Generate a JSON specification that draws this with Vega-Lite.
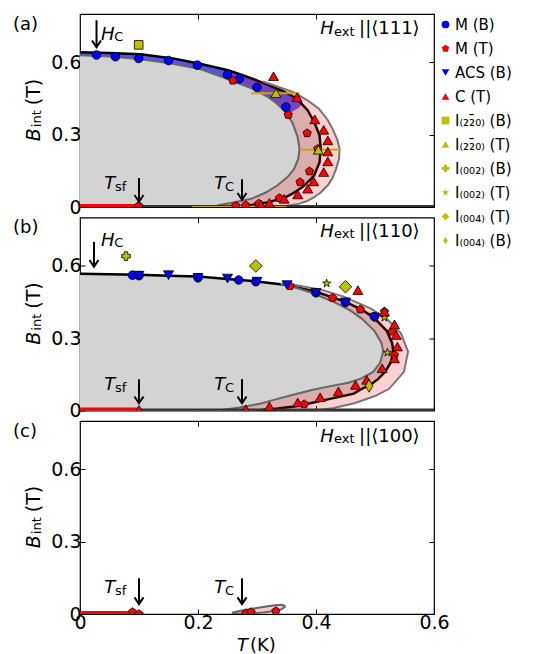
{
"$schema":"https://vega.github.io/schema/vega-lite/v6.json",
"padding":{"left":12,"top":12,"right":2,"bottom":2},
"spacing":10.5,
"bounds":"flush",
"config":{
 "font":"DejaVu Sans",
 "view":{"stroke":"black","strokeWidth":1.2},
 "axis":{"domain":false,"grid":false,"tickSize":-5,"tickWidth":1,"tickColor":"black","labelFontSize":19,"labelColor":"black","labelPadding":4,"labelFlush":false,"labelOverlap":false,"labelFont":"DejaVu Sans"},
 "legend":{"orient":"none","legendX":355,"legendY":0,"labelFontSize":15,"labelFont":"DejaVu Sans","labelColor":"black","rowPadding":8,"symbolSize":60,"symbolStrokeColor":"black","symbolStrokeWidth":0.8,"labelOffset":2,"padding":3,"labelLimit":300}
},
"datasets":{
 "blackA":[{"B":0,"T":0.26},{"B":0.003,"T":0.275},{"B":0.008,"T":0.29},{"B":0.02,"T":0.32},{"B":0.041,"T":0.349},{"B":0.055,"T":0.36},{"B":0.083,"T":0.377},{"B":0.11,"T":0.389},{"B":0.131,"T":0.397},{"B":0.186,"T":0.406},{"B":0.241,"T":0.408},{"B":0.297,"T":0.406},{"B":0.352,"T":0.397},{"B":0.4,"T":0.386},{"B":0.451,"T":0.367},{"B":0.485,"T":0.34},{"B":0.52,"T":0.305},{"B":0.545,"T":0.277},{"B":0.567,"T":0.251},{"B":0.593,"T":0.205},{"B":0.615,"T":0.16},{"B":0.633,"T":0.103},{"B":0.638,"T":0.05},{"B":0.641,"T":0}],
 "innerA":[{"B":0,"T":0.228},{"B":0.008,"T":0.236},{"B":0.02,"T":0.263},{"B":0.034,"T":0.29},{"B":0.06,"T":0.315},{"B":0.09,"T":0.335},{"B":0.125,"T":0.352},{"B":0.158,"T":0.363},{"B":0.2,"T":0.37},{"B":0.24,"T":0.372},{"B":0.29,"T":0.369},{"B":0.35,"T":0.36},{"B":0.4,"T":0.346},{"B":0.43,"T":0.333},{"B":0.46,"T":0.316},{"B":0.49,"T":0.293},{"B":0.521,"T":0.26},{"B":0.546,"T":0.233},{"B":0.571,"T":0.205},{"B":0.595,"T":0.155},{"B":0.612,"T":0.103},{"B":0.624,"T":0.05},{"B":0.629,"T":0}],
 "outerA":[{"B":0,"T":0.34},{"B":0.004,"T":0.349},{"B":0.014,"T":0.372},{"B":0.025,"T":0.385},{"B":0.041,"T":0.397},{"B":0.06,"T":0.408},{"B":0.09,"T":0.42},{"B":0.12,"T":0.428},{"B":0.158,"T":0.434},{"B":0.2,"T":0.439},{"B":0.241,"T":0.44},{"B":0.28,"T":0.436},{"B":0.324,"T":0.428},{"B":0.36,"T":0.42},{"B":0.407,"T":0.405},{"B":0.44,"T":0.387},{"B":0.476,"T":0.362},{"B":0.52,"T":0.31}],
 "pinkA":[{"B":0,"lo":0.228,"hi":0.34},{"B":0.004,"lo":0.232,"hi":0.349},{"B":0.014,"lo":0.25,"hi":0.372},{"B":0.025,"lo":0.273,"hi":0.385},{"B":0.041,"lo":0.297,"hi":0.397},{"B":0.06,"lo":0.315,"hi":0.408},{"B":0.09,"lo":0.335,"hi":0.42},{"B":0.12,"lo":0.35,"hi":0.428},{"B":0.158,"lo":0.363,"hi":0.434},{"B":0.2,"lo":0.37,"hi":0.439},{"B":0.241,"lo":0.372,"hi":0.44},{"B":0.28,"lo":0.37,"hi":0.436},{"B":0.324,"lo":0.364,"hi":0.428},{"B":0.36,"lo":0.358,"hi":0.42},{"B":0.407,"lo":0.343,"hi":0.405},{"B":0.44,"lo":0.327,"hi":0.387},{"B":0.476,"lo":0.304,"hi":0.362},{"B":0.52,"lo":0.261,"hi":0.31},{"B":0.545,"lo":0.234,"hi":0.277}],
 "blueA":[{"B":0.385,"lo":0.352,"hi":0.353},{"B":0.41,"lo":0.342,"hi":0.37},{"B":0.43,"lo":0.333,"hi":0.378},{"B":0.451,"lo":0.321,"hi":0.367},{"B":0.485,"lo":0.297,"hi":0.34},{"B":0.52,"lo":0.261,"hi":0.305},{"B":0.545,"lo":0.234,"hi":0.277},{"B":0.567,"lo":0.209,"hi":0.251},{"B":0.593,"lo":0.16,"hi":0.205},{"B":0.612,"lo":0.103,"hi":0.167},{"B":0.624,"lo":0.05,"hi":0.135},{"B":0.629,"lo":0,"hi":0.122},{"B":0.633,"lo":0,"hi":0.103},{"B":0.638,"lo":0,"hi":0.05},{"B":0.641,"lo":0,"hi":0}],
 "errA":[{"B":0.472,"lo":0.29,"hi":0.372},{"B":0.237,"lo":0.375,"hi":0.441},{"B":0,"lo":0.19,"hi":0.35}],
 "ptsA":[
  {"s":"MB","T":0.028,"B":0.63},{"s":"MB","T":0.06,"B":0.623},{"s":"MB","T":0.0995,"B":0.616},{"s":"MB","T":0.15,"B":0.607},{"s":"MB","T":0.199,"B":0.588},{"s":"MB","T":0.25,"B":0.549},{"s":"MB","T":0.27,"B":0.531},{"s":"MB","T":0.3,"B":0.496},{"s":"MB","T":0.349,"B":0.414},
  {"s":"MT","T":0.259,"B":0.524},{"s":"MT","T":0.353,"B":0.382},{"s":"MT","T":0.385,"B":0.306},{"s":"MT","T":0.403,"B":0.241},{"s":"MT","T":0.389,"B":0.148},{"s":"MT","T":0.373,"B":0.103},{"s":"MT","T":0.338,"B":0.037},{"s":"MT","T":0.303,"B":0.014},{"s":"MT","T":0.281,"B":0.007},{"s":"MT","T":0.264,"B":0.005},{"s":"MT","T":0.0995,"B":0.005},
  {"s":"CT","T":0.328,"B":0.542},{"s":"CT","T":0.368,"B":0.455},{"s":"CT","T":0.398,"B":0.363},{"s":"CT","T":0.413,"B":0.32},{"s":"CT","T":0.42,"B":0.276},{"s":"CT","T":0.42,"B":0.23},{"s":"CT","T":0.42,"B":0.189},{"s":"CT","T":0.413,"B":0.145},{"s":"CT","T":0.396,"B":0.106},{"s":"CT","T":0.386,"B":0.076},{"s":"CT","T":0.369,"B":0.052},{"s":"CT","T":0.346,"B":0.034},{"s":"CT","T":0.321,"B":0.017},{"s":"CT","T":0.307,"B":0.01},
  {"s":"I220B","T":0.0995,"B":0.672},
  {"s":"I220T","T":0.332,"B":0.472},{"s":"I220T","T":0.404,"B":0.237}],
 "arrA":[{"T":0.028,"top":0.774,"tip":0.662},{"T":0.1,"top":0.12,"tip":0.022},{"T":0.2746,"top":0.115,"tip":0.03}],
 "annA":[
  {"k":"it","T":0.0356,"B":0.693,"t":"H"},{"k":"sub","T":0.058,"B":0.687,"t":"C"},
  {"k":"it","T":0.041,"B":0.073,"t":"T"},{"k":"sub","T":0.0593,"B":0.067,"t":"sf"},
  {"k":"it","T":0.2276,"B":0.073,"t":"T"},{"k":"sub","T":0.2458,"B":0.067,"t":"C"},
  {"k":"it","T":0.407,"B":0.717,"t":"H"},{"k":"sub","T":0.4305,"B":0.71,"t":"ext"},{"k":"rm","T":0.473,"B":0.717,"t":"||⟨111⟩"},
  {"k":"rm","T":-0.1136,"B":0.732,"t":"(a)"},
  {"k":"yit","T":-0.0686,"B":0.273,"t":"B"},{"k":"ysub","T":-0.0661,"B":0.331,"t":"int"},{"k":"yrm","T":-0.0686,"B":0.422,"t":"(T)"}],
 "blackB":[{"B":0,"T":0.298},{"B":0.008,"T":0.335},{"B":0.017,"T":0.363},{"B":0.03,"T":0.39},{"B":0.046,"T":0.42},{"B":0.07,"T":0.464},{"B":0.09,"T":0.478},{"B":0.108,"T":0.493},{"B":0.13,"T":0.505},{"B":0.16,"T":0.517},{"B":0.2,"T":0.527},{"B":0.244,"T":0.531},{"B":0.28,"T":0.529},{"B":0.33,"T":0.52},{"B":0.38,"T":0.5},{"B":0.415,"T":0.48},{"B":0.45,"T":0.45},{"B":0.492,"T":0.4},{"B":0.52,"T":0.35},{"B":0.535,"T":0.3},{"B":0.543,"T":0.26},{"B":0.555,"T":0.2},{"B":0.559,"T":0.15},{"B":0.563,"T":0.1},{"B":0.565,"T":0.05},{"B":0.567,"T":0}],
 "innerB":[{"B":0,"T":0.234},{"B":0.012,"T":0.27},{"B":0.029,"T":0.307},{"B":0.045,"T":0.33},{"B":0.066,"T":0.363},{"B":0.085,"T":0.393},{"B":0.099,"T":0.42},{"B":0.115,"T":0.455},{"B":0.132,"T":0.476},{"B":0.16,"T":0.497},{"B":0.2,"T":0.509},{"B":0.244,"T":0.514},{"B":0.28,"T":0.511},{"B":0.33,"T":0.499},{"B":0.38,"T":0.478},{"B":0.415,"T":0.458},{"B":0.45,"T":0.43},{"B":0.49,"T":0.39},{"B":0.51,"T":0.365},{"B":0.525,"T":0.34}],
 "outerB":[{"B":0,"T":0.4},{"B":0.01,"T":0.43},{"B":0.03,"T":0.465},{"B":0.06,"T":0.5},{"B":0.09,"T":0.524},{"B":0.16,"T":0.549},{"B":0.244,"T":0.556},{"B":0.32,"T":0.544},{"B":0.38,"T":0.52},{"B":0.422,"T":0.493},{"B":0.472,"T":0.447},{"B":0.5,"T":0.41},{"B":0.521,"T":0.363},{"B":0.525,"T":0.34}],
 "pinkB":[{"B":0,"lo":0.234,"hi":0.4},{"B":0.012,"lo":0.27,"hi":0.433},{"B":0.029,"lo":0.307,"hi":0.463},{"B":0.045,"lo":0.33,"hi":0.483},{"B":0.066,"lo":0.363,"hi":0.505},{"B":0.085,"lo":0.393,"hi":0.52},{"B":0.099,"lo":0.42,"hi":0.527},{"B":0.115,"lo":0.455,"hi":0.534},{"B":0.132,"lo":0.476,"hi":0.54},{"B":0.16,"lo":0.497,"hi":0.549},{"B":0.2,"lo":0.509,"hi":0.553},{"B":0.244,"lo":0.514,"hi":0.556},{"B":0.28,"lo":0.511,"hi":0.551},{"B":0.33,"lo":0.499,"hi":0.54},{"B":0.38,"lo":0.478,"hi":0.52},{"B":0.415,"lo":0.458,"hi":0.497},{"B":0.45,"lo":0.43,"hi":0.467},{"B":0.49,"lo":0.39,"hi":0.42},{"B":0.51,"lo":0.365,"hi":0.39},{"B":0.525,"lo":0.34,"hi":0.34}],
 "ptsB":[
  {"s":"MB","T":0.089,"B":0.561},{"s":"MB","T":0.1,"B":0.559},{"s":"MB","T":0.2,"B":0.55},{"s":"MB","T":0.269,"B":0.541},{"s":"MB","T":0.298,"B":0.534},{"s":"MB","T":0.4,"B":0.488},{"s":"MB","T":0.45,"B":0.448},{"s":"MB","T":0.499,"B":0.389},
  {"s":"ACS","T":0.1,"B":0.559},{"s":"ACS","T":0.15,"B":0.561},{"s":"ACS","T":0.2,"B":0.55},{"s":"ACS","T":0.25,"B":0.547},{"s":"ACS","T":0.3,"B":0.534},{"s":"ACS","T":0.351,"B":0.52},{"s":"ACS","T":0.4,"B":0.488},{"s":"ACS","T":0.45,"B":0.448},{"s":"ACS","T":0.499,"B":0.385},
  {"s":"MT","T":0.356,"B":0.516},{"s":"MT","T":0.428,"B":0.467},{"s":"MT","T":0.475,"B":0.419},{"s":"MT","T":0.516,"B":0.41},{"s":"MT","T":0.529,"B":0.327},{"s":"MT","T":0.533,"B":0.23},{"s":"MT","T":0.38,"B":0.026},
  {"s":"CT","T":0.471,"B":0.499},{"s":"CT","T":0.516,"B":0.41},{"s":"CT","T":0.533,"B":0.357},{"s":"CT","T":0.536,"B":0.313},{"s":"CT","T":0.538,"B":0.265},{"s":"CT","T":0.533,"B":0.216},{"s":"CT","T":0.512,"B":0.175},{"s":"CT","T":0.486,"B":0.127},{"s":"CT","T":0.467,"B":0.106},{"s":"CT","T":0.438,"B":0.079},{"s":"CT","T":0.407,"B":0.055},{"s":"CT","T":0.369,"B":0.033},{"s":"CT","T":0.321,"B":0.017},{"s":"CT","T":0.281,"B":0.005},{"s":"CT","T":0.1,"B":0.003},
  {"s":"I002B","T":0.078,"B":0.64},
  {"s":"I004T","T":0.298,"B":0.599},{"s":"I004T","T":0.45,"B":0.513},
  {"s":"I002T","T":0.418,"B":0.527},{"s":"I002T","T":0.516,"B":0.385},{"s":"I002T","T":0.521,"B":0.24},
  {"s":"I004B","T":0.49,"B":0.102}],
 "arrB":[{"T":0.0237,"top":0.699,"tip":0.596},{"T":0.1,"top":0.13,"tip":0.03},{"T":0.2746,"top":0.13,"tip":0.03}],
 "annB":[
  {"k":"it","T":0.0356,"B":0.683,"t":"H"},{"k":"sub","T":0.058,"B":0.677,"t":"C"},
  {"k":"it","T":0.041,"B":0.083,"t":"T"},{"k":"sub","T":0.0593,"B":0.077,"t":"sf"},
  {"k":"it","T":0.2276,"B":0.083,"t":"T"},{"k":"sub","T":0.2458,"B":0.077,"t":"C"},
  {"k":"it","T":0.407,"B":0.72,"t":"H"},{"k":"sub","T":0.4305,"B":0.713,"t":"ext"},{"k":"rm","T":0.473,"B":0.72,"t":"||⟨110⟩"},
  {"k":"rm","T":-0.1136,"B":0.734,"t":"(b)"},
  {"k":"yit","T":-0.0686,"B":0.273,"t":"B"},{"k":"ysub","T":-0.0661,"B":0.331,"t":"int"},{"k":"yrm","T":-0.0686,"B":0.422,"t":"(T)"}],
 "shapeC":[{"T":0.259,"lo":0.004,"hi":0.006},{"T":0.27,"lo":0.001,"hi":0.012},{"T":0.29,"lo":0.002,"hi":0.021},{"T":0.31,"lo":0.006,"hi":0.029},{"T":0.33,"lo":0.012,"hi":0.036},{"T":0.342,"lo":0.02,"hi":0.038},{"T":0.347,"lo":0.029,"hi":0.033}],
 "ptsC":[{"s":"MT","T":0.089,"B":0.008},{"s":"MT","T":0.1,"B":0.0},{"s":"MT","T":0.281,"B":0.003},{"s":"MT","T":0.29,"B":0.008},{"s":"MT","T":0.332,"B":0.012}],
 "arrC":[{"T":0.1,"top":0.148,"tip":0.041},{"T":0.2746,"top":0.148,"tip":0.041}],
 "annC":[
  {"k":"it","T":0.041,"B":0.086,"t":"T"},{"k":"sub","T":0.0593,"B":0.08,"t":"sf"},
  {"k":"it","T":0.2276,"B":0.086,"t":"T"},{"k":"sub","T":0.2458,"B":0.08,"t":"C"},
  {"k":"it","T":0.407,"B":0.714,"t":"H"},{"k":"sub","T":0.4305,"B":0.707,"t":"ext"},{"k":"rm","T":0.473,"B":0.714,"t":"||⟨100⟩"},
  {"k":"rm","T":-0.1136,"B":0.734,"t":"(c)"},
  {"k":"yit","T":-0.0686,"B":0.273,"t":"B"},{"k":"ysub","T":-0.0661,"B":0.331,"t":"int"},{"k":"yrm","T":-0.0686,"B":0.422,"t":"(T)"},
  {"k":"it","T":0.266,"B":-0.155,"t":"T"},{"k":"rm","T":0.288,"B":-0.155,"t":"(K)"}]
},
"vconcat":[
{
 "width":354,"height":193,
 "resolve":{"axis":{"x":"independent","y":"independent"}},
 "layer":[
 {"layer":[
  {"data":{"name":"blackA"},"mark":{"type":"area","orient":"horizontal","fill":"#d3d3d3","clip":true},
   "encoding":{"x":{"field":"T","type":"quantitative","scale":{"domain":[0,0.6],"nice":false,"zero":false},"title":null,"axis":{"values":[0,0.2,0.4,0.6],"labels":false}},"x2":{"datum":0},
   "y":{"field":"B","type":"quantitative","scale":{"domain":[0,0.8],"nice":false,"zero":false},"title":null,"axis":{"values":[0,0.3,0.6],"format":"~g"}}}},
  {"data":{"name":"blueA"},"mark":{"type":"area","orient":"horizontal","fill":"#0000ff","fillOpacity":0.6,"clip":true},
   "encoding":{"x":{"field":"hi","type":"quantitative","scale":{"domain":[0,0.6]},"title":null},"x2":{"field":"lo"},"y":{"field":"B","type":"quantitative","scale":{"domain":[0,0.8]},"title":null}}},
  {"data":{"name":"blackA"},"mark":{"type":"line","color":"black","strokeWidth":2.5,"clip":true},
   "encoding":{"x":{"field":"T","type":"quantitative","scale":{"domain":[0,0.6]},"title":null},"y":{"field":"B","type":"quantitative","scale":{"domain":[0,0.8]},"title":null},"order":{"field":"B","type":"quantitative"}}},
  {"data":{"name":"pinkA"},"mark":{"type":"area","orient":"horizontal","fill":"#ff0000","fillOpacity":0.18,"clip":true},
   "encoding":{"x":{"field":"hi","type":"quantitative","scale":{"domain":[0,0.6]},"title":null},"x2":{"field":"lo"},"y":{"field":"B","type":"quantitative","scale":{"domain":[0,0.8]},"title":null}}},
  {"data":{"name":"innerA"},"mark":{"type":"line","color":"#666666","strokeWidth":2,"clip":true},
   "encoding":{"x":{"field":"T","type":"quantitative","scale":{"domain":[0,0.6]},"title":null},"y":{"field":"B","type":"quantitative","scale":{"domain":[0,0.8]},"title":null},"order":{"field":"B","type":"quantitative"}}},
  {"data":{"name":"outerA"},"mark":{"type":"line","color":"#777777","strokeWidth":2,"clip":true},
   "encoding":{"x":{"field":"T","type":"quantitative","scale":{"domain":[0,0.6]},"title":null},"y":{"field":"B","type":"quantitative","scale":{"domain":[0,0.8]},"title":null},"order":{"field":"B","type":"quantitative"}}},
  {"data":{"values":[{"T":0.1,"T2":0.6,"B":0}]},"mark":{"type":"rule","color":"#333333","strokeWidth":4,"clip":true},
   "encoding":{"x":{"field":"T","type":"quantitative","scale":{"domain":[0,0.6]},"title":null},"x2":{"field":"T2"},"y":{"field":"B","type":"quantitative","scale":{"domain":[0,0.8]},"title":null}}},
  {"data":{"name":"errA"},"mark":{"type":"rule","color":"#c4aa00","strokeWidth":2,"clip":true},
   "encoding":{"x":{"field":"lo","type":"quantitative","scale":{"domain":[0,0.6]},"title":null},"x2":{"field":"hi"},"y":{"field":"B","type":"quantitative","scale":{"domain":[0,0.8]},"title":null}}},
  {"data":{"values":[{"T":0,"T2":0.1,"B":0}]},"mark":{"type":"rule","color":"#ff0000","strokeWidth":6,"clip":true},
   "encoding":{"x":{"field":"T","type":"quantitative","scale":{"domain":[0,0.6]},"title":null},"x2":{"field":"T2"},"y":{"field":"B","type":"quantitative","scale":{"domain":[0,0.8]},"title":null}}},
  {"data":{"name":"ptsA"},"transform":[{"filter":"indexof(['ACS','CT','I220T','I004T','I004B'], datum.s) < 0"}],
   "mark":{"type":"point","filled":true,"stroke":"black","strokeWidth":0.8,"opacity":1,"size":75,"clip":true},
   "encoding":{"x":{"field":"T","type":"quantitative","scale":{"domain":[0,0.6]},"title":null},"y":{"field":"B","type":"quantitative","scale":{"domain":[0,0.8]},"title":null},
    "shape":{"field":"s","type":"nominal","scale":{"domain":["MB","MT","ACS","CT","I220B","I220T","I002B","I002T","I004T","I004B"],"range":["circle","M0,-1L0.951,-0.309L0.588,0.809L-0.588,0.809L-0.951,-0.309Z","triangle-down","triangle-up","square","triangle-up","cross","M0,-1L0.225,-0.309L0.951,-0.309L0.363,0.118L0.588,0.809L0,0.382L-0.588,0.809L-0.363,0.118L-0.951,-0.309L-0.225,-0.309Z","diamond","M0,-1L0.6,0L0,1L-0.6,0Z"]},
     "legend":{"title":null,"labelExpr":"datum.label=='MB'?'M (B)':datum.label=='MT'?'M (T)':datum.label=='ACS'?'ACS (B)':datum.label=='CT'?'C (T)':datum.label=='I220B'?'I\u208d\u2082\u2082\u0304\u2080\u208e (B)':datum.label=='I220T'?'I\u208d\u2082\u2082\u0304\u2080\u208e (T)':datum.label=='I002B'?'I\u208d\u2080\u2080\u2082\u208e (B)':datum.label=='I002T'?'I\u208d\u2080\u2080\u2082\u208e (T)':datum.label=='I004T'?'I\u208d\u2080\u2080\u2084\u208e (T)':'I\u208d\u2080\u2080\u2084\u208e (B)'"}},
    "fill":{"field":"s","type":"nominal","scale":{"domain":["MB","MT","ACS","CT","I220B","I220T","I002B","I002T","I004T","I004B"],"range":["#0000ff","#ff0000","#0000ff","#ff0000","#bfbf00","#bfbf00","#bfbf00","#bfbf00","#bfbf00","#bfbf00"]},
     "legend":{"title":null,"labelExpr":"datum.label=='MB'?'M (B)':datum.label=='MT'?'M (T)':datum.label=='ACS'?'ACS (B)':datum.label=='CT'?'C (T)':datum.label=='I220B'?'I\u208d\u2082\u2082\u0304\u2080\u208e (B)':datum.label=='I220T'?'I\u208d\u2082\u2082\u0304\u2080\u208e (T)':datum.label=='I002B'?'I\u208d\u2080\u2080\u2082\u208e (B)':datum.label=='I002T'?'I\u208d\u2080\u2080\u2082\u208e (T)':datum.label=='I004T'?'I\u208d\u2080\u2080\u2084\u208e (T)':'I\u208d\u2080\u2080\u2084\u208e (B)'"}}}},
  {"data":{"name":"ptsA"},"transform":[{"filter":"indexof(['ACS','CT','I220T'], datum.s) >= 0"}],
   "mark":{"type":"point","filled":true,"stroke":"black","strokeWidth":0.8,"opacity":1,"size":100,"clip":true},
   "encoding":{"x":{"field":"T","type":"quantitative","scale":{"domain":[0,0.6]},"title":null},"y":{"field":"B","type":"quantitative","scale":{"domain":[0,0.8]},"title":null},
    "shape":{"field":"s","type":"nominal"},"fill":{"field":"s","type":"nominal"}}},
  {"data":{"name":"arrA"},"mark":{"type":"rule","color":"black","strokeWidth":2},
   "encoding":{"x":{"field":"T","type":"quantitative","scale":{"domain":[0,0.6]},"title":null},"y":{"field":"top","type":"quantitative","scale":{"domain":[0,0.8]},"title":null},"y2":{"field":"tip"}}},
  {"data":{"name":"arrA"},"mark":{"type":"point","shape":"M-1,-1.5L0,0L1,-1.5","filled":false,"stroke":"black","strokeWidth":2,"size":81,"opacity":1},
   "encoding":{"x":{"field":"T","type":"quantitative","scale":{"domain":[0,0.6]},"title":null},"y":{"field":"tip","type":"quantitative","scale":{"domain":[0,0.8]},"title":null}}},
  {"data":{"name":"annA"},"transform":[{"filter":"datum.k=='it'"}],"mark":{"type":"text","fontStyle":"italic","fontSize":18,"align":"left","baseline":"alphabetic"},
   "encoding":{"x":{"field":"T","type":"quantitative","scale":{"domain":[0,0.6]},"title":null},"y":{"field":"B","type":"quantitative","scale":{"domain":[0,0.8]},"title":null},"text":{"field":"t"}}},
  {"data":{"name":"annA"},"transform":[{"filter":"datum.k=='rm'"}],"mark":{"type":"text","fontSize":18,"align":"left","baseline":"alphabetic"},
   "encoding":{"x":{"field":"T","type":"quantitative","scale":{"domain":[0,0.6]},"title":null},"y":{"field":"B","type":"quantitative","scale":{"domain":[0,0.8]},"title":null},"text":{"field":"t"}}},
  {"data":{"name":"annA"},"transform":[{"filter":"datum.k=='sub'"}],"mark":{"type":"text","fontSize":13,"align":"left","baseline":"alphabetic"},
   "encoding":{"x":{"field":"T","type":"quantitative","scale":{"domain":[0,0.6]},"title":null},"y":{"field":"B","type":"quantitative","scale":{"domain":[0,0.8]},"title":null},"text":{"field":"t"}}},
  {"data":{"name":"annA"},"transform":[{"filter":"datum.k=='yit'"}],"mark":{"type":"text","fontStyle":"italic","fontSize":19,"align":"left","baseline":"alphabetic","angle":270},
   "encoding":{"x":{"field":"T","type":"quantitative","scale":{"domain":[0,0.6]},"title":null},"y":{"field":"B","type":"quantitative","scale":{"domain":[0,0.8]},"title":null},"text":{"field":"t"}}},
  {"data":{"name":"annA"},"transform":[{"filter":"datum.k=='ysub'"}],"mark":{"type":"text","fontSize":13,"align":"left","baseline":"alphabetic","angle":270},
   "encoding":{"x":{"field":"T","type":"quantitative","scale":{"domain":[0,0.6]},"title":null},"y":{"field":"B","type":"quantitative","scale":{"domain":[0,0.8]},"title":null},"text":{"field":"t"}}},
  {"data":{"name":"annA"},"transform":[{"filter":"datum.k=='yrm'"}],"mark":{"type":"text","fontSize":19,"align":"left","baseline":"alphabetic","angle":270},
   "encoding":{"x":{"field":"T","type":"quantitative","scale":{"domain":[0,0.6]},"title":null},"y":{"field":"B","type":"quantitative","scale":{"domain":[0,0.8]},"title":null},"text":{"field":"t"}}}
 ]},
 {"data":{"values":[{"T":0,"B":0}]},"mark":{"type":"point","opacity":0},
  "encoding":{"x":{"field":"T","type":"quantitative","scale":{"domain":[0,0.6],"nice":false},"title":null,"axis":{"orient":"top","values":[0.2,0.4],"labels":false}},
   "y":{"field":"B","type":"quantitative","scale":{"domain":[0,0.8],"nice":false},"title":null,"axis":{"orient":"right","values":[0.3,0.6],"labels":false}}}}
 ]
},
{
 "width":354,"height":193,
 "resolve":{"axis":{"x":"independent","y":"independent"}},
 "layer":[
 {"layer":[
  {"data":{"name":"blackB"},"mark":{"type":"area","orient":"horizontal","fill":"#d3d3d3","clip":true},
   "encoding":{"x":{"field":"T","type":"quantitative","scale":{"domain":[0,0.6],"nice":false,"zero":false},"title":null,"axis":{"values":[0,0.2,0.4,0.6],"labels":false}},"x2":{"datum":0},
   "y":{"field":"B","type":"quantitative","scale":{"domain":[0,0.8],"nice":false,"zero":false},"title":null,"axis":{"values":[0,0.3,0.6],"format":"~g"}}}},
  {"data":{"name":"blackB"},"mark":{"type":"line","color":"black","strokeWidth":2.5,"clip":true},
   "encoding":{"x":{"field":"T","type":"quantitative","scale":{"domain":[0,0.6]},"title":null},"y":{"field":"B","type":"quantitative","scale":{"domain":[0,0.8]},"title":null},"order":{"field":"B","type":"quantitative"}}},
  {"data":{"name":"pinkB"},"mark":{"type":"area","orient":"horizontal","fill":"#ff0000","fillOpacity":0.18,"clip":true},
   "encoding":{"x":{"field":"hi","type":"quantitative","scale":{"domain":[0,0.6]},"title":null},"x2":{"field":"lo"},"y":{"field":"B","type":"quantitative","scale":{"domain":[0,0.8]},"title":null}}},
  {"data":{"name":"innerB"},"mark":{"type":"line","color":"#666666","strokeWidth":2,"clip":true},
   "encoding":{"x":{"field":"T","type":"quantitative","scale":{"domain":[0,0.6]},"title":null},"y":{"field":"B","type":"quantitative","scale":{"domain":[0,0.8]},"title":null},"order":{"field":"B","type":"quantitative"}}},
  {"data":{"name":"outerB"},"mark":{"type":"line","color":"#777777","strokeWidth":2,"clip":true},
   "encoding":{"x":{"field":"T","type":"quantitative","scale":{"domain":[0,0.6]},"title":null},"y":{"field":"B","type":"quantitative","scale":{"domain":[0,0.8]},"title":null},"order":{"field":"B","type":"quantitative"}}},
  {"data":{"values":[{"T":0.1,"T2":0.6,"B":0}]},"mark":{"type":"rule","color":"#333333","strokeWidth":4,"clip":true},
   "encoding":{"x":{"field":"T","type":"quantitative","scale":{"domain":[0,0.6]},"title":null},"x2":{"field":"T2"},"y":{"field":"B","type":"quantitative","scale":{"domain":[0,0.8]},"title":null}}},
  {"data":{"values":[{"T":0,"T2":0.1,"B":0}]},"mark":{"type":"rule","color":"#ff0000","strokeWidth":6,"clip":true},
   "encoding":{"x":{"field":"T","type":"quantitative","scale":{"domain":[0,0.6]},"title":null},"x2":{"field":"T2"},"y":{"field":"B","type":"quantitative","scale":{"domain":[0,0.8]},"title":null}}},
  {"data":{"name":"ptsB"},"transform":[{"filter":"indexof(['ACS','CT','I220T','I004T','I004B'], datum.s) < 0"}],
   "mark":{"type":"point","filled":true,"stroke":"black","strokeWidth":0.8,"opacity":1,"size":75,"clip":true},
   "encoding":{"x":{"field":"T","type":"quantitative","scale":{"domain":[0,0.6]},"title":null},"y":{"field":"B","type":"quantitative","scale":{"domain":[0,0.8]},"title":null},
    "shape":{"field":"s","type":"nominal"},"fill":{"field":"s","type":"nominal"}}},
  {"data":{"name":"ptsB"},"transform":[{"filter":"indexof(['ACS','CT','I220T'], datum.s) >= 0"}],
   "mark":{"type":"point","filled":true,"stroke":"black","strokeWidth":0.8,"opacity":1,"size":100,"clip":true},
   "encoding":{"x":{"field":"T","type":"quantitative","scale":{"domain":[0,0.6]},"title":null},"y":{"field":"B","type":"quantitative","scale":{"domain":[0,0.8]},"title":null},
    "shape":{"field":"s","type":"nominal"},"fill":{"field":"s","type":"nominal"}}},
  {"data":{"name":"ptsB"},"transform":[{"filter":"datum.s=='I004T'||datum.s=='I004B'"}],
   "mark":{"type":"point","filled":true,"stroke":"black","strokeWidth":0.8,"opacity":1,"size":160,"clip":true},
   "encoding":{"x":{"field":"T","type":"quantitative","scale":{"domain":[0,0.6]},"title":null},"y":{"field":"B","type":"quantitative","scale":{"domain":[0,0.8]},"title":null},
    "shape":{"field":"s","type":"nominal"},"fill":{"field":"s","type":"nominal"}}},
  {"data":{"name":"arrB"},"mark":{"type":"rule","color":"black","strokeWidth":2},
   "encoding":{"x":{"field":"T","type":"quantitative","scale":{"domain":[0,0.6]},"title":null},"y":{"field":"top","type":"quantitative","scale":{"domain":[0,0.8]},"title":null},"y2":{"field":"tip"}}},
  {"data":{"name":"arrB"},"mark":{"type":"point","shape":"M-1,-1.5L0,0L1,-1.5","filled":false,"stroke":"black","strokeWidth":2,"size":81,"opacity":1},
   "encoding":{"x":{"field":"T","type":"quantitative","scale":{"domain":[0,0.6]},"title":null},"y":{"field":"tip","type":"quantitative","scale":{"domain":[0,0.8]},"title":null}}},
  {"data":{"name":"annB"},"transform":[{"filter":"datum.k=='it'"}],"mark":{"type":"text","fontStyle":"italic","fontSize":18,"align":"left","baseline":"alphabetic"},
   "encoding":{"x":{"field":"T","type":"quantitative","scale":{"domain":[0,0.6]},"title":null},"y":{"field":"B","type":"quantitative","scale":{"domain":[0,0.8]},"title":null},"text":{"field":"t"}}},
  {"data":{"name":"annB"},"transform":[{"filter":"datum.k=='rm'"}],"mark":{"type":"text","fontSize":18,"align":"left","baseline":"alphabetic"},
   "encoding":{"x":{"field":"T","type":"quantitative","scale":{"domain":[0,0.6]},"title":null},"y":{"field":"B","type":"quantitative","scale":{"domain":[0,0.8]},"title":null},"text":{"field":"t"}}},
  {"data":{"name":"annB"},"transform":[{"filter":"datum.k=='sub'"}],"mark":{"type":"text","fontSize":13,"align":"left","baseline":"alphabetic"},
   "encoding":{"x":{"field":"T","type":"quantitative","scale":{"domain":[0,0.6]},"title":null},"y":{"field":"B","type":"quantitative","scale":{"domain":[0,0.8]},"title":null},"text":{"field":"t"}}},
  {"data":{"name":"annB"},"transform":[{"filter":"datum.k=='yit'"}],"mark":{"type":"text","fontStyle":"italic","fontSize":19,"align":"left","baseline":"alphabetic","angle":270},
   "encoding":{"x":{"field":"T","type":"quantitative","scale":{"domain":[0,0.6]},"title":null},"y":{"field":"B","type":"quantitative","scale":{"domain":[0,0.8]},"title":null},"text":{"field":"t"}}},
  {"data":{"name":"annB"},"transform":[{"filter":"datum.k=='ysub'"}],"mark":{"type":"text","fontSize":13,"align":"left","baseline":"alphabetic","angle":270},
   "encoding":{"x":{"field":"T","type":"quantitative","scale":{"domain":[0,0.6]},"title":null},"y":{"field":"B","type":"quantitative","scale":{"domain":[0,0.8]},"title":null},"text":{"field":"t"}}},
  {"data":{"name":"annB"},"transform":[{"filter":"datum.k=='yrm'"}],"mark":{"type":"text","fontSize":19,"align":"left","baseline":"alphabetic","angle":270},
   "encoding":{"x":{"field":"T","type":"quantitative","scale":{"domain":[0,0.6]},"title":null},"y":{"field":"B","type":"quantitative","scale":{"domain":[0,0.8]},"title":null},"text":{"field":"t"}}}
 ]},
 {"data":{"values":[{"T":0,"B":0}]},"mark":{"type":"point","opacity":0},
  "encoding":{"x":{"field":"T","type":"quantitative","scale":{"domain":[0,0.6],"nice":false},"title":null,"axis":{"orient":"top","values":[0.2,0.4],"labels":false}},
   "y":{"field":"B","type":"quantitative","scale":{"domain":[0,0.8],"nice":false},"title":null,"axis":{"orient":"right","values":[0.3,0.6],"labels":false}}}}
 ]
},
{
 "width":354,"height":193,
 "resolve":{"axis":{"x":"independent","y":"independent"}},
 "layer":[
 {"layer":[
  {"data":{"name":"shapeC"},"mark":{"type":"area","fill":"#f6cccc","stroke":"#666666","strokeWidth":2,"clip":true},
   "encoding":{"x":{"field":"T","type":"quantitative","scale":{"domain":[0,0.6],"nice":false,"zero":false},"title":null,"axis":{"values":[0,0.2,0.4,0.6],"labels":true,"format":"~g"}},
   "y":{"field":"hi","type":"quantitative","scale":{"domain":[0,0.8],"nice":false,"zero":false},"title":null,"axis":{"values":[0,0.3,0.6],"format":"~g"}},"y2":{"field":"lo"}}},
  {"data":{"values":[{"T":0,"T2":0.1,"B":0}]},"mark":{"type":"rule","color":"#ff0000","strokeWidth":6,"clip":true},
   "encoding":{"x":{"field":"T","type":"quantitative","scale":{"domain":[0,0.6]},"title":null},"x2":{"field":"T2"},"y":{"field":"B","type":"quantitative","scale":{"domain":[0,0.8]},"title":null}}},
  {"data":{"name":"ptsC"},
   "mark":{"type":"point","filled":true,"stroke":"black","strokeWidth":0.8,"opacity":1,"size":75,"clip":true},
   "encoding":{"x":{"field":"T","type":"quantitative","scale":{"domain":[0,0.6]},"title":null},"y":{"field":"B","type":"quantitative","scale":{"domain":[0,0.8]},"title":null},
    "shape":{"field":"s","type":"nominal"},"fill":{"field":"s","type":"nominal"}}},
  {"data":{"name":"arrC"},"mark":{"type":"rule","color":"black","strokeWidth":2},
   "encoding":{"x":{"field":"T","type":"quantitative","scale":{"domain":[0,0.6]},"title":null},"y":{"field":"top","type":"quantitative","scale":{"domain":[0,0.8]},"title":null},"y2":{"field":"tip"}}},
  {"data":{"name":"arrC"},"mark":{"type":"point","shape":"M-1,-1.5L0,0L1,-1.5","filled":false,"stroke":"black","strokeWidth":2,"size":81,"opacity":1},
   "encoding":{"x":{"field":"T","type":"quantitative","scale":{"domain":[0,0.6]},"title":null},"y":{"field":"tip","type":"quantitative","scale":{"domain":[0,0.8]},"title":null}}},
  {"data":{"name":"annC"},"transform":[{"filter":"datum.k=='it'"}],"mark":{"type":"text","fontStyle":"italic","fontSize":18,"align":"left","baseline":"alphabetic"},
   "encoding":{"x":{"field":"T","type":"quantitative","scale":{"domain":[0,0.6]},"title":null},"y":{"field":"B","type":"quantitative","scale":{"domain":[0,0.8]},"title":null},"text":{"field":"t"}}},
  {"data":{"name":"annC"},"transform":[{"filter":"datum.k=='rm'"}],"mark":{"type":"text","fontSize":18,"align":"left","baseline":"alphabetic"},
   "encoding":{"x":{"field":"T","type":"quantitative","scale":{"domain":[0,0.6]},"title":null},"y":{"field":"B","type":"quantitative","scale":{"domain":[0,0.8]},"title":null},"text":{"field":"t"}}},
  {"data":{"name":"annC"},"transform":[{"filter":"datum.k=='sub'"}],"mark":{"type":"text","fontSize":13,"align":"left","baseline":"alphabetic"},
   "encoding":{"x":{"field":"T","type":"quantitative","scale":{"domain":[0,0.6]},"title":null},"y":{"field":"B","type":"quantitative","scale":{"domain":[0,0.8]},"title":null},"text":{"field":"t"}}},
  {"data":{"name":"annC"},"transform":[{"filter":"datum.k=='yit'"}],"mark":{"type":"text","fontStyle":"italic","fontSize":19,"align":"left","baseline":"alphabetic","angle":270},
   "encoding":{"x":{"field":"T","type":"quantitative","scale":{"domain":[0,0.6]},"title":null},"y":{"field":"B","type":"quantitative","scale":{"domain":[0,0.8]},"title":null},"text":{"field":"t"}}},
  {"data":{"name":"annC"},"transform":[{"filter":"datum.k=='ysub'"}],"mark":{"type":"text","fontSize":13,"align":"left","baseline":"alphabetic","angle":270},
   "encoding":{"x":{"field":"T","type":"quantitative","scale":{"domain":[0,0.6]},"title":null},"y":{"field":"B","type":"quantitative","scale":{"domain":[0,0.8]},"title":null},"text":{"field":"t"}}},
  {"data":{"name":"annC"},"transform":[{"filter":"datum.k=='yrm'"}],"mark":{"type":"text","fontSize":19,"align":"left","baseline":"alphabetic","angle":270},
   "encoding":{"x":{"field":"T","type":"quantitative","scale":{"domain":[0,0.6]},"title":null},"y":{"field":"B","type":"quantitative","scale":{"domain":[0,0.8]},"title":null},"text":{"field":"t"}}}
 ]},
 {"data":{"values":[{"T":0,"B":0}]},"mark":{"type":"point","opacity":0},
  "encoding":{"x":{"field":"T","type":"quantitative","scale":{"domain":[0,0.6],"nice":false},"title":null,"axis":{"orient":"top","values":[0.2,0.4],"labels":false}},
   "y":{"field":"B","type":"quantitative","scale":{"domain":[0,0.8],"nice":false},"title":null,"axis":{"orient":"right","values":[0.3,0.6],"labels":false}}}}
 ]
}
]
}
